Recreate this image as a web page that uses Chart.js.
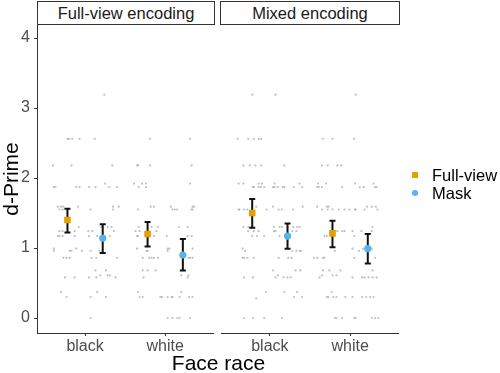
<!DOCTYPE html>
<html>
<head>
<meta charset="utf-8">
<script src="https://cdn.jsdelivr.net/npm/chart.js@4.4.0/dist/chart.umd.min.js"></script>
<style>
  body { margin: 0; background: #fff; }
  #wrap { position: relative; width: 500px; height: 373px; overflow: hidden;
          font-family: "Liberation Sans", Arial, sans-serif; }
  canvas { position: absolute; top: 0; }
  .strip { position: absolute; top: 1px; height: 24px; box-sizing: border-box;
           border: 1px solid #333; font-size: 16.5px; color: #1a1a1a;
           text-align: center; line-height: 22px; background: #fff; }
  #xtitle { position: absolute; left: 0; width: 437px; top: 351px; text-align: center;
            font-size: 21px; line-height: 24px; color: #000; }
  .leg { position: absolute; left: 432px; font-size: 16.5px; line-height: 18px; color: #000; }
  .mk { position: absolute; left: 412px; width: 6px; height: 6px; }
</style>
</head>
<body>
<div id="wrap">
  <canvas id="c1" width="218" height="373" style="left:0px"></canvas>
  <canvas id="c2" width="186" height="373" style="left:217px"></canvas>
  <div class="strip" id="s1" style="left:37px;width:178px"></div>
  <div class="strip" id="s2" style="left:220px;width:180px"></div>
  <div id="xtitle"></div>
  <div class="mk" style="top:172px;background:#E69F00"></div>
  <div class="leg" id="l1" style="top:166px"></div>
  <div class="mk" style="top:190px;background:#56B4E9;border-radius:50%"></div>
  <div class="leg" id="l2" style="top:184px"></div>
</div>
<script>
// данные
const categories = ['black', 'white'];
const panelTitles = ['Full-view encoding', 'Mixed encoding'];
const seriesNames = ['Full-view', 'Mask'];
const yTicks = [0, 1, 2, 3, 4];
const dodge = 0.22;

// средние и границы ошибок: [панель][раса]
const fullViewMean = [[1.40, 1.20], [1.50, 1.21]];
const fullViewLow  = [[1.22, 1.02], [1.29, 1.01]];
const fullViewHigh = [[1.56, 1.37], [1.70, 1.39]];
const maskMean = [[1.14, 0.90], [1.17, 0.99]];
const maskLow  = [[0.93, 0.68], [0.99, 0.78]];
const maskHigh = [[1.34, 1.13], [1.35, 1.20]];

// отдельные участники (x с разбросом, d-prime)
const rawFullViewEnc = [
  [1.24,3.19],
  [0.78,2.56],[0.80,2.56],[0.84,2.56],[0.93,2.56],[1.12,2.56],
  [0.60,2.18],[0.83,2.18],[1.34,2.18],
  [1.25,1.92],
  [0.61,1.87],[0.63,1.87],[0.89,1.87],[0.93,1.87],[1.05,1.87],[1.13,1.87],[1.30,1.87],[1.40,1.87],
  [0.66,1.59],[0.70,1.59],[0.73,1.59],[0.91,1.59],[1.35,1.59],[1.42,1.59],
  [0.68,1.55],[0.72,1.55],[1.07,1.55],[1.35,1.55],
  [0.92,1.30],[1.20,1.30],[1.28,1.30],[1.33,1.30],
  [0.68,1.24],[0.72,1.24],[0.87,1.24],[1.04,1.24],[1.09,1.24],[1.36,1.24],
  [0.66,1.17],[0.68,1.17],[0.72,1.17],[0.87,1.17],[1.05,1.17],[1.15,1.17],[1.31,1.17],
  [0.61,0.99],[0.89,0.99],
  [0.61,0.96],[0.81,0.96],[0.83,0.96],[0.96,0.96],[1.07,0.96],[1.18,0.96],
  [0.73,0.86],[0.77,0.86],[0.81,0.86],[1.08,0.86],[1.14,0.86],[1.40,0.86],
  [1.13,0.68],[1.26,0.68],
  [1.19,0.61],[1.28,0.61],[1.31,0.61],
  [0.75,0.58],[0.87,0.58],[1.05,0.58],[1.14,0.58],[1.38,0.58],
  [0.70,0.37],[1.15,0.37],
  [0.77,0.30],[1.07,0.30],[1.26,0.30],
  [1.07,0],
  [1.81,2.56],[2.31,2.56],
  [1.65,2.18],[1.66,2.18],[1.81,2.18],[2.33,2.18],
  [1.61,1.92],[1.71,1.92],[1.76,1.92],[2.31,1.92],
  [1.67,1.87],[1.76,1.87],
  [1.82,1.59],[1.86,1.59],[2.07,1.59],[2.34,1.59],[2.36,1.59],
  [1.66,1.55],[2.09,1.55],[2.12,1.55],[2.15,1.55],[2.33,1.55],[2.34,1.55],
  [1.67,1.30],[1.83,1.30],[1.91,1.30],[2.17,1.30],[2.28,1.30],
  [1.63,1.24],[1.68,1.24],[1.89,1.24],
  [1.65,1.17],[1.66,1.17],[1.86,1.17],[2.02,1.17],[2.28,1.17],[2.33,1.17],
  [1.65,0.99],[2.03,0.99],[2.05,0.99],[2.34,0.99],
  [1.77,0.96],[1.78,0.96],[2.03,0.96],
  [1.72,0.86],[1.80,0.86],[1.83,0.86],[1.86,0.86],[1.91,0.86],[2.29,0.86],[2.31,0.86],[2.34,0.86],
  [1.72,0.68],[1.78,0.68],[1.88,0.68],
  [2.20,0.61],[2.29,0.61],
  [1.73,0.58],[2.28,0.58],
  [1.66,0.37],[2.20,0.37],
  [1.68,0.30],[1.72,0.30],[1.94,0.30],[1.96,0.30],[2.03,0.30],[2.08,0.30],[2.09,0.30],[2.18,0.30],[2.30,0.30],[2.34,0.30],
  [2.03,0],[2.09,0],[2.15,0],[2.18,0],[2.31,0]
];
const rawMixedEnc = [
  [0.78,3.19],[1.07,3.19],
  [0.60,2.56],[0.73,2.56],[0.80,2.56],[0.86,2.56],[0.89,2.56],
  [0.67,2.18],[0.75,2.18],[0.82,2.18],[0.89,2.18],[1.18,2.18],
  [0.61,1.92],[0.67,1.92],[0.86,1.92],[0.90,1.92],[1.06,1.92],[1.37,1.92],
  [0.79,1.87],[0.80,1.87],[0.86,1.87],[0.89,1.87],[0.93,1.87],[1.04,1.87],[1.06,1.87],[1.10,1.87],[1.16,1.87],[1.18,1.87],[1.30,1.87],[1.40,1.87],
  [0.83,1.59],[1.04,1.59],[1.41,1.59],
  [0.61,1.55],[0.62,1.55],[0.68,1.55],[0.72,1.55],[0.96,1.55],[1.11,1.55],[1.15,1.55],[1.29,1.55],
  [0.67,1.30],[0.73,1.30],[1.05,1.30],[1.12,1.30],[1.15,1.30],[1.29,1.30],[1.34,1.30],[1.37,1.30],
  [0.73,1.24],[0.80,1.24],[0.86,1.24],[1.05,1.24],[1.07,1.24],[1.28,1.24],[1.33,1.24],
  [0.78,1.17],[0.84,1.17],[0.93,1.17],[1.12,1.17],
  [0.66,0.99],[0.69,0.96],[1.28,0.96],[1.33,0.96],[1.37,0.96],[1.39,0.96],
  [0.66,0.86],[0.68,0.86],[0.72,0.86],[0.80,0.86],[1.11,0.86],[1.23,0.86],[1.27,0.86],
  [1.04,0.68],[1.32,0.68],[1.38,0.68],
  [1.10,0.61],
  [0.68,0.58],[0.79,0.58],[1.07,0.58],[1.17,0.58],[1.22,0.58],[1.26,0.58],
  [0.95,0.37],[1.18,0.37],[1.34,0.37],
  [1.30,0.30],[1.40,0.30],[0.83,0.28],
  [0.68,0],[0.79,0],[0.93,0],[1.15,0],
  [2.07,3.19],
  [1.66,2.56],[1.78,2.56],[2.05,2.56],
  [1.65,2.18],[1.72,2.18],[1.84,2.18],[1.89,2.18],
  [1.60,1.92],[1.70,1.92],[2.06,1.92],[2.29,1.92],
  [1.59,1.87],[1.61,1.87],[1.65,1.87],[1.90,1.87],[2.12,1.87],[2.17,1.87],[2.31,1.87],[2.33,1.87],
  [1.59,1.59],[1.71,1.59],[1.73,1.59],[2.21,1.59],[2.27,1.59],[2.32,1.59],
  [1.65,1.55],[1.72,1.55],[1.78,1.55],[1.86,1.55],[1.93,1.55],[1.99,1.55],[2.06,1.55],[2.07,1.55],[2.18,1.55],[2.34,1.55],
  [2.28,1.30],
  [1.78,1.24],[1.84,1.24],[1.90,1.24],[1.93,1.24],[2.03,1.24],[2.14,1.24],[2.27,1.24],
  [1.68,1.17],[1.71,1.17],[2.05,1.17],
  [2.03,0.99],[2.16,0.99],[2.27,0.99],
  [1.81,0.96],[2.11,0.96],
  [1.55,0.86],[1.59,0.86],[1.66,0.86],[1.68,0.86],[2.05,0.86],[2.31,0.86],
  [1.66,0.68],[1.74,0.68],[1.88,0.68],[2.28,0.68],
  [1.65,0.61],[1.78,0.61],[1.83,0.61],
  [1.62,0.58],[2.03,0.58],[2.15,0.58],[2.18,0.58],[2.23,0.58],[2.28,0.58],[2.33,0.58],
  [1.77,0.37],
  [1.71,0.30],[1.73,0.30],[1.79,0.30],[1.83,0.30],[1.94,0.30],[2.03,0.30],[2.15,0.30],[2.20,0.30],[2.25,0.30],[2.29,0.30],
  [1.81,0],[1.83,0],[1.90,0],[2.05,0],[2.07,0],[2.27,0],[2.31,0],[2.35,0]
];

// тексты
document.getElementById('s1').textContent = panelTitles[0];
document.getElementById('s2').textContent = panelTitles[1];
document.getElementById('xtitle').textContent = 'Face race';
document.getElementById('l1').textContent = seriesNames[0];
document.getElementById('l2').textContent = seriesNames[1];

const FONT = '"Liberation Sans", Arial, sans-serif';
const AXIS = '#333333';

// плагин для усов ошибок — рисуется после серых точек, но под средними
function makeErrorBars(bars) {
  return {
    id: 'errorBars',
    afterDatasetDraw(chart, args) {
      if (args.index !== 2) return;
      const ctx = chart.ctx;
      const xs = chart.scales.x, ys = chart.scales.y;
      ctx.save();
      ctx.strokeStyle = '#111';
      ctx.lineWidth = 2;
      bars.forEach(b => {
        const px = xs.getPixelForValue(b.x);
        const top = ys.getPixelForValue(b.high);
        const bot = ys.getPixelForValue(b.low);
        ctx.beginPath();
        ctx.moveTo(px, top); ctx.lineTo(px, bot);
        ctx.moveTo(px - 3, top); ctx.lineTo(px + 3, top);
        ctx.moveTo(px - 3, bot); ctx.lineTo(px + 3, bot);
        ctx.stroke();
      });
      ctx.restore();
    }
  };
}

function makePanel(id, p, raw, showY) {
  var fullPts = [], maskPts = [], bars = [];
  for (var i = 0; i < categories.length; i++) {
    fullPts.push({x: i + 1 - dodge, y: fullViewMean[p][i]});
    maskPts.push({x: i + 1 + dodge, y: maskMean[p][i]});
    bars.push({x: i + 1 - dodge, low: fullViewLow[p][i], high: fullViewHigh[p][i]});
    bars.push({x: i + 1 + dodge, low: maskLow[p][i], high: maskHigh[p][i]});
  }
  var rawPts = raw.map(r => ({x: r[0], y: r[1]}));

  return new Chart(document.getElementById(id), {
    type: 'scatter',
    data: {
      datasets: [
        {label: seriesNames[0], data: fullPts, pointStyle: 'rect', pointRadius: 4.7,
         backgroundColor: '#E69F00', borderWidth: 0, order: 0},
        {label: seriesNames[1], data: maskPts, pointStyle: 'circle', pointRadius: 3.6,
         backgroundColor: '#56B4E9', borderWidth: 0, order: 0},
        {label: 'raw', data: rawPts, pointRadius: 1.1,
         backgroundColor: 'rgba(165,165,165,0.7)', borderWidth: 0, order: 1}
      ]
    },
    options: {
      responsive: false,
      animation: false,
      events: [],
      layout: {padding: {top: 25, right: 3, left: showY ? 0 : 3, bottom: 0}},
      plugins: {legend: {display: false}, tooltip: {enabled: false}},
      scales: {
        x: {
          type: 'linear', min: 0.4, max: 2.6,
          afterBuildTicks: s => { s.ticks = categories.map((c, i) => ({value: i + 1})); },
          afterFit: s => { s.height = 40; },
          ticks: {callback: v => categories[v - 1], font: {family: FONT, size: 16},
                  color: '#4D4D4D', padding: 1, maxRotation: 0},
          grid: {display: true, drawOnChartArea: false, drawTicks: true, tickLength: 3, color: AXIS},
          border: {display: true, color: AXIS, width: 1}
        },
        y: {
          display: showY,
          min: -0.214, max: 4.186,
          afterBuildTicks: s => { s.ticks = yTicks.map(v => ({value: v})); },
          afterFit: s => { if (showY) s.width = 37; },
          ticks: {font: {family: FONT, size: 16}, color: '#4D4D4D', padding: 4},
          grid: {display: true, drawOnChartArea: false, drawTicks: true, tickLength: 3, color: AXIS},
          border: {display: true, color: AXIS, width: 1},
          title: {display: true, text: 'd-Prime', font: {family: FONT, size: 21},
                  color: '#000', padding: 0}
        }
      }
    },
    plugins: [makeErrorBars(bars)]
  });
}

makePanel('c1', 0, rawFullViewEnc, true);
makePanel('c2', 1, rawMixedEnc, false);
</script>
</body>
</html>
